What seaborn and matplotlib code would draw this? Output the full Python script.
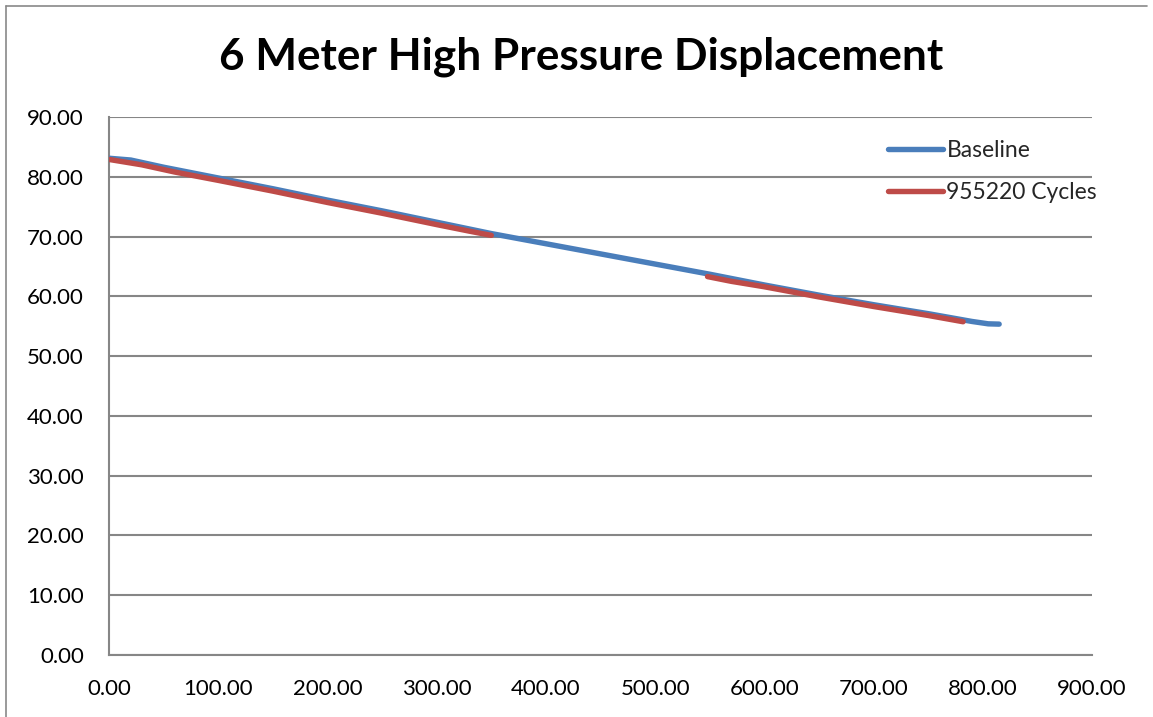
import matplotlib
matplotlib.use("Agg")
import matplotlib.pyplot as plt
from matplotlib.lines import Line2D
import pandas as pd
import seaborn as sns

# Baseline run
baseline_x = [0, 20, 50, 100, 150, 200, 250, 300, 350, 400, 450, 500,
              550, 600, 650, 700, 750, 790, 805, 815]
baseline_y = [83.1, 82.8, 81.6, 79.8, 78.0, 76.1, 74.3, 72.4, 70.5, 68.8,
              67.1, 65.4, 63.7, 61.9, 60.2, 58.6, 57.1, 55.8, 55.4, 55.35]

# Run after 955220 cycles, recorded in two stretches
cycles_x1 = [0, 30, 60, 100, 150, 200, 250, 300, 330, 350]
cycles_y1 = [82.9, 82.0, 80.8, 79.4, 77.6, 75.7, 73.9, 72.0, 70.9, 70.2]
cycles_x2 = [548, 570, 600, 650, 700, 750, 782]
cycles_y2 = [63.3, 62.5, 61.6, 59.9, 58.3, 56.8, 55.75]

series_names = ["Baseline", "955220 Cycles"]
series_colors = ["#4A7EBB", "#BE4B48"]
title = "6 Meter High Pressure Displacement"

base_df = pd.DataFrame({"x": baseline_x, "y": baseline_y})
cyc_df = pd.DataFrame({
    "x": cycles_x1 + cycles_x2,
    "y": cycles_y1 + cycles_y2,
    "segment": [1] * len(cycles_x1) + [2] * len(cycles_x2),
})

sns.set_theme(style="white")
plt.rcParams["font.family"] = ["Lato", "DejaVu Sans"]

fig = plt.figure(figsize=(11.53, 7.17), dpi=100)
ax = fig.add_axes([109 / 1153, 1 - 655 / 717, (1092 - 109) / 1153, (655 - 117) / 717])

grey = "#868686"
lw = 3.9
sns.lineplot(data=base_df, x="x", y="y", ax=ax, color=series_colors[0],
             linewidth=lw, solid_capstyle="round", zorder=3)
sns.lineplot(data=cyc_df, x="x", y="y", units="segment", estimator=None,
             sort=False, ax=ax, color=series_colors[1],
             linewidth=lw, solid_capstyle="round", zorder=4)

ax.set_xlim(0, 900)
ax.set_ylim(0, 90)
ax.set_xticks(range(0, 901, 100))
ax.set_yticks(range(0, 91, 10))
ax.set_xticklabels([f"{v:.2f}" for v in range(0, 901, 100)])
ax.set_yticklabels([f"{v:.2f}" for v in range(0, 91, 10)])
ax.set_xlabel("")
ax.set_ylabel("")

ax.yaxis.grid(True, color=grey, linewidth=1.5)
ax.xaxis.grid(False)
ax.set_axisbelow(True)
for side in ["top", "right"]:
    ax.spines[side].set_visible(False)
for side in ["left", "bottom"]:
    ax.spines[side].set_color(grey)
    ax.spines[side].set_linewidth(1.5)
ax.tick_params(axis="both", which="major", direction="out", length=6,
               width=1.5, color=grey, labelsize=16, labelcolor="black")
ax.tick_params(axis="y", pad=12)
ax.tick_params(axis="x", pad=11)

fig.text(581 / 1153, 1 - 57 / 717, title, ha="center", va="center",
         fontsize=31.8, fontweight="bold", color="black")

handles = [Line2D([], [], color=c, linewidth=lw, solid_capstyle="round")
           for c in series_colors]
fig.legend(handles, series_names, loc="upper left",
           bbox_to_anchor=(888 / 1153, 1 - 140 / 717), frameon=False,
           fontsize=16.5, handlelength=2.4, handletextpad=0.15,
           labelspacing=0.9, borderpad=0, borderaxespad=0)

# Outer chart border
fig.add_artist(Line2D([5.5 / 1153, 5.5 / 1153], [0, 1 - 5.5 / 717],
                      transform=fig.transFigure, color="#898989", linewidth=1.2))
fig.add_artist(Line2D([5.5 / 1153, 1147 / 1153], [1 - 5.5 / 717, 1 - 5.5 / 717],
                      transform=fig.transFigure, color="#898989", linewidth=1.2))

fig.savefig("out.png", dpi=100, facecolor="white")
